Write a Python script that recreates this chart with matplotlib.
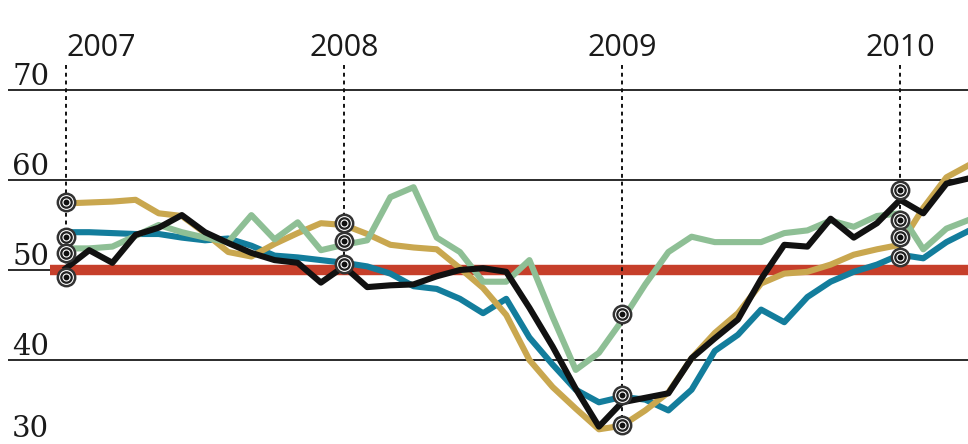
import matplotlib
matplotlib.use("Agg")
from matplotlib import pyplot as plt

# monthly index, 0 = Jan 2007
years = ["2007", "2008", "2009", "2010"]
year_idx = [0, 12, 24, 36]

black = [50.2, 52.2, 50.8, 53.9, 54.7, 56.1, 54.2, 53.0, 51.9, 51.1, 50.8, 48.6,
         50.4, 48.1, 48.3, 48.4, 49.3, 50.0, 50.2, 49.8, 45.8, 41.5, 36.8, 32.6,
         35.3, 35.8, 36.3, 40.2, 42.4, 44.5, 49.0, 52.8, 52.6, 55.7, 53.6, 55.2,
         57.8, 56.3, 59.6, 60.2]
gold = [57.4, 57.5, 57.6, 57.8, 56.3, 56.0, 54.1, 52.0, 51.5, 52.9, 54.1, 55.2,
        55.0, 54.0, 52.8, 52.5, 52.3, 50.2, 48.0, 45.0, 40.0, 37.0, 34.6, 32.3,
        32.7, 34.4, 36.4, 40.2, 43.0, 45.2, 48.5, 49.6, 49.8, 50.6, 51.7, 52.3,
        52.8, 56.9, 60.3, 61.7]
blue = [54.2, 54.2, 54.1, 54.0, 54.0, 53.6, 53.3, 53.5, 52.7, 51.6, 51.4, 51.1,
        50.8, 50.4, 49.6, 48.2, 47.9, 46.8, 45.2, 46.8, 42.5, 39.5, 36.7, 35.3,
        35.9, 35.6, 34.4, 36.7, 41.0, 42.8, 45.6, 44.2, 47.0, 48.7, 49.8, 50.6,
        51.7, 51.3, 53.1, 54.4]
green = [52.4, 52.4, 52.6, 53.8, 55.0, 54.2, 53.6, 53.1, 56.1, 53.4, 55.3, 52.2,
         52.8, 53.3, 58.1, 59.2, 53.6, 52.0, 48.7, 48.7, 51.1, 44.8, 38.9, 40.8,
         44.4, 48.4, 52.0, 53.7, 53.1, 53.1, 53.1, 54.1, 54.4, 55.5, 54.8, 56.0,
         56.3, 52.3, 54.6, 55.6]

# marker stacks at each year
markers = [[57.6, 53.7, 51.9, 49.2],
           [55.2, 53.2, 50.7],
           [45.1, 36.1, 32.8],
           [58.9, 55.6, 53.7, 51.4]]

grid_vals = [70, 60, 50, 40]
ylabels = [70, 60, 50, 40, 30]

fig = plt.figure(figsize=(9.68, 4.44), dpi=100)
ax = fig.add_axes([0, 0, 1, 1])
ax.set_xlim(-2.85, 38.93)
ax.set_ylim(30.667, 80)
ax.axis("off")

# horizontal rules
ax.hlines(grid_vals, -2.5, 40, color="#1a1a1a", lw=1.3, zorder=1)
ax.plot([-0.69, 40], [50, 50], color="#c63f2a", lw=7.5, solid_capstyle="butt", zorder=2)

x = list(range(len(black)))
ax.plot(x, blue, color="#137d9c", lw=4.4, zorder=3)
ax.plot(x, gold, color="#c9a74f", lw=4.4, zorder=3)
ax.plot(x, green, color="#8ebf95", lw=4.4, zorder=4)
ax.plot(x, black, color="#111111", lw=4.4, zorder=5)

# y labels (bottom one lifted a bit so it stays inside)
for v in ylabels:
    base = v + 0.55 if v > 30 else v + 1.45
    ax.text(-2.33, base, str(v), family="DejaVu Serif", fontsize=21,
            ha="left", va="baseline", color="#1a1a1a")

# year markers, dotted guides
for i, (yr, xi) in enumerate(zip(years, year_idx)):
    ax.plot([xi, xi], [72.8, min(markers[i])], color="#111111", lw=1.4,
            linestyle=(0, (2, 2)), zorder=6)
    ax.text(xi, 73.8, yr, family="Open Sans", fontsize=22,
            ha="left" if i == 0 else "center", va="baseline", color="#1a1a1a")
    mx = [xi] * len(markers[i])
    ax.plot(mx, markers[i], "o", ms=12.5, mfc="white", mec="#333333", mew=1.8, zorder=7)
    ax.plot(mx, markers[i], "o", ms=7.5, mfc="white", mec="#222222", mew=1.6, zorder=8)
    ax.plot(mx, markers[i], "o", ms=3.2, mfc="#111111", mec="#111111", zorder=9)

fig.savefig("out.png", dpi=100)
